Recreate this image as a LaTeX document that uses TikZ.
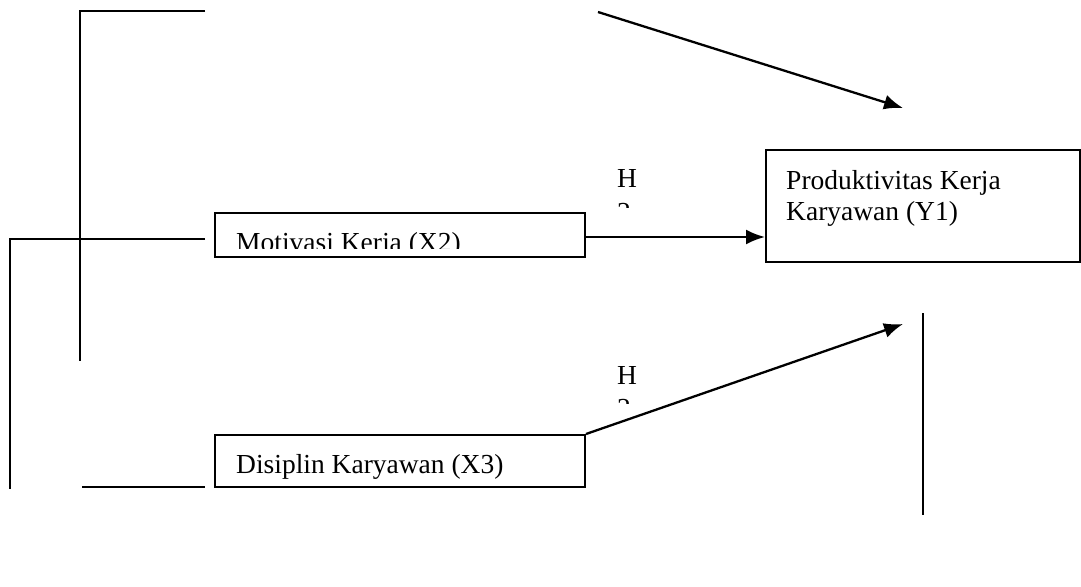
\documentclass[tikz,border=0pt]{standalone}
\usepackage{fontspec}
\setmainfont{Liberation Serif}
\usetikzlibrary{arrows.meta}
\tikzset{
  ln/.style={line width=2.3pt, line cap=butt},
  box/.style={draw, line width=2pt, inner sep=0pt},
  arr/.style={ln, -{Latex[length=19pt,width=15pt]}},
  txt/.style={inner sep=0pt, font=\fontsize{27.5pt}{31pt}\selectfont, anchor=base west}
}
\begin{document}
\begin{tikzpicture}[x=1pt,y=-1pt]
\useasboundingbox (0,0) rectangle (1081,586);
% boxes
\node[box, minimum width=370pt, minimum height=44pt] (x2) at (400,235) {};
\node[box, minimum width=370pt, minimum height=52pt] (x3) at (400,461) {};
\node[box, minimum width=314pt, minimum height=112pt] (y1) at (923,206) {};
% texts
\begin{scope}
  \clip (217,215) rectangle (583,248);
  \node[txt] (x2t) at (236,251) {Motivasi Kerja (X2)};
\end{scope}
\begin{scope}
  \clip (217,437) rectangle (583,478);
  \node[txt] (x3t) at (236,473) {Disiplin Karyawan (X3)};
\end{scope}
\node[txt] (y1a) at (786,189) {Produktivitas Kerja};
\node[txt] (y1b) at (786,220) {Karyawan (Y1)};
% H labels
\node[txt] (h2a) at (617,187) {H};
\begin{scope}
  \clip (600,195) rectangle (660,207);
  \node[txt] (h2b) at (617,221) {2};
\end{scope}
\node[txt] (h3a) at (617,384) {H};
\begin{scope}
  \clip (600,392) rectangle (660,403);
  \node[txt] (h3b) at (617,417) {2};
\end{scope}
% free coordinates
\coordinate (t1) at (598,12);
\coordinate (t2) at (903,108);
\coordinate (b2) at (903,324);
\coordinate (v1) at (923,313);
\coordinate (v2) at (923,515);
\coordinate (a1) at (205,11);
\coordinate (a2) at (80,11);
\coordinate (a3) at (80,361);
\coordinate (c1) at (205,239);
\coordinate (c2) at (10,239);
\coordinate (c3) at (10,489);
\coordinate (d1) at (82,487);
\coordinate (d2) at (205,487);
% connectors
\draw[arr] (t1) -- (t2);
\draw[arr] ([yshift=-2pt]x2.east) -- ([yshift=-2pt]x2.east -| y1.west);
\draw[arr] (x3.north east) -- (b2);
\draw[ln] (v1) -- (v2);
\draw[ln] (a1) -- (a2) -- (a3);
\draw[ln] (c1) -- (c2) -- (c3);
\draw[ln] (d1) -- (d2);
\end{tikzpicture}
\end{document}
